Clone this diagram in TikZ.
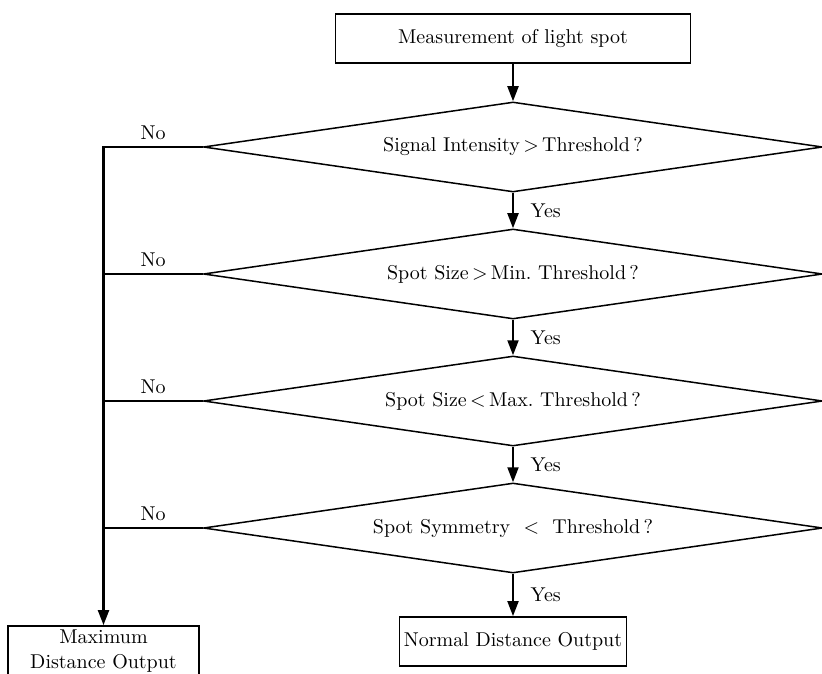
\documentclass[tikz,border=0pt]{standalone}
\usepackage{tikz}
\usetikzlibrary{shapes.geometric, arrows.meta, positioning}
\tikzset{
	process/.style  ={rectangle, draw=black, line width=0.9pt, minimum width=177.5pt, minimum height=24.5pt, align=center, inner sep=0pt},
	decision/.style ={diamond, aspect=6.9, draw=black, line width=0.75pt, minimum width=309.5pt, minimum height=45pt, inner sep=1pt},
	flowarrow/.style={-{Triangle[length=7.5pt, width=5.5pt]}, line width=1pt},
	noline/.style   ={line width=1.1pt},
}
\begin{document}
\begin{tikzpicture}[x=0.5pt, y=-0.5pt, font=\normalsize]
	\clip (0,0) rectangle (822,673);
	\node[process] (meas) at (513,38.5) {Measurement of light spot};
	\node[decision] (d1) at (513,147) {Signal Intensity\,$>$\,Threshold\,?};
	\node[decision] (d2) at (513,274) {Spot Size\,$>$\,Min.\ Threshold\,?};
	\node[decision] (d3) at (513,401) {Spot Size\,$<$\,Max.\ Threshold\,?};
	\node[decision] (d4) at (513,528) {Spot Symmetry \ $<$ \ Threshold\,?};
	\node[process, minimum width=113.5pt] (normal) at (513,641.5) {Normal Distance Output};
	\node[process, minimum width=95.5pt, minimum height=25pt] (maxout) at (103.5,651) {Maximum\\[0.5pt]Distance Output};
	% yes branch
	\draw[flowarrow] (meas.south) -- (d1.north);
	\draw[flowarrow] (d1.south) -- node[right, xshift=5pt] {Yes} (d2.north);
	\draw[flowarrow] (d2.south) -- node[right, xshift=5pt] {Yes} (d3.north);
	\draw[flowarrow] (d3.south) -- node[right, xshift=5pt] {Yes} (d4.north);
	\draw[flowarrow] (d4.south) -- node[right, xshift=5pt] {Yes} (normal.north);
	% no branch
	\draw[flowarrow, line width=1.1pt] (d1.west) -| node[pos=0.25, above] {No} (maxout.north);
	\foreach \d in {d2,d3,d4}
		\draw[noline] (\d.west) -- node[above] {No} (\d.west -| maxout.north);
\end{tikzpicture}
\end{document}
